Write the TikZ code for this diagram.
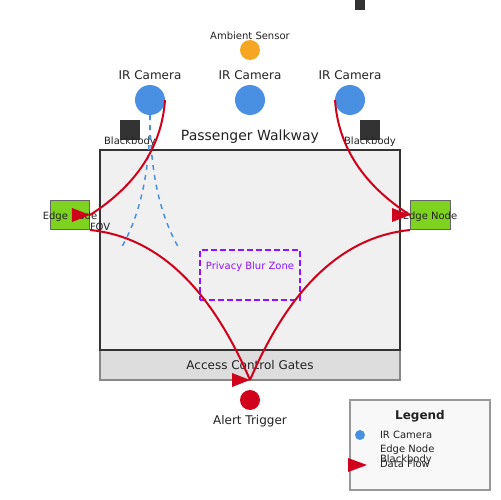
\documentclass[tikz,border=0pt]{standalone}
\usepackage{fontspec}
\setmainfont{DejaVu Sans}
\definecolor{camblue}{HTML}{4A90E2}
\definecolor{sensorange}{HTML}{F5A623}
\definecolor{edgegreen}{HTML}{7ED321}
\definecolor{flowred}{HTML}{D0021B}
\definecolor{blurpurple}{HTML}{9013FE}
\definecolor{darkbox}{HTML}{333333}
\definecolor{walkfill}{HTML}{F0F0F0}
\definecolor{gatefill}{HTML}{DDDDDD}
\definecolor{gateline}{HTML}{888888}
\definecolor{edgeline}{HTML}{666666}
\definecolor{legfill}{HTML}{F8F8F8}
\definecolor{legline}{HTML}{999999}
\definecolor{txt}{HTML}{222222}
\begin{document}
\begin{tikzpicture}[x=0.02cm,y=-0.02cm,
  every node/.style={outer sep=0pt},
  tten/.style={font=\fontsize{5.69pt}{6.8pt}\selectfont,text=txt,inner sep=0pt,anchor=base},
  ttwelve/.style={font=\fontsize{6.83pt}{8pt}\selectfont,text=txt,inner sep=0pt,anchor=base},
  tfourteen/.style={font=\fontsize{7.97pt}{9.5pt}\selectfont,text=txt,inner sep=0pt,anchor=base},
  camdot/.style={circle,fill=camblue,minimum size=0.6cm,inner sep=0pt},
  bbox/.style={rectangle,fill=darkbox,minimum size=0.4cm,inner sep=0pt},
  edgebox/.style={rectangle,fill=edgegreen,draw=edgeline,line width=0.57pt,minimum width=0.8cm,minimum height=0.6cm,inner sep=0pt},
  flow/.style={draw=flowred,line width=1.14pt},
  fov/.style={draw=camblue,line width=0.85pt,dash pattern=on 2.85pt off 2.85pt},
  tipfill/.style={fill=flowred}
]
\useasboundingbox (0,0) rectangle (500,500);

% top partial box
\node[rectangle,fill=darkbox,minimum size=0.2cm,inner sep=0pt] (topbox) at (360,5) {};

% gates and walkway
\node[rectangle,fill=gatefill,draw=gateline,line width=0.85pt,minimum width=6cm,minimum height=0.6cm,inner sep=0pt] (gates) at (250,365) {};
\node[rectangle,fill=walkfill,draw=darkbox,line width=1.14pt,minimum width=6cm,minimum height=4cm,inner sep=0pt] (walk) at (250,250) {};
\node[tfourteen] (walklbl) at (250,140) {Passenger Walkway};
\node[ttwelve] (gatelbl) at (250,369.5) {Access Control Gates};

% sensor
\node[circle,fill=sensorange,minimum size=0.4cm,inner sep=0pt] (amb) at (250,50) {};
\node[tten] (amblbl) at (250,40) {Ambient Sensor};

% cameras
\node[camdot] (cam1) at (150,100) {};
\node[camdot] (cam2) at (250,100) {};
\node[camdot] (cam3) at (350,100) {};
\node[ttwelve] (cam1lbl) at (150,80) {IR Camera};
\node[ttwelve] (cam2lbl) at (250,80) {IR Camera};
\node[ttwelve] (cam3lbl) at (350,80) {IR Camera};

% blackbodies
\node[bbox] (bb1) at (130,130) {};
\node[bbox] (bb2) at (370,130) {};
\node[tten] (bb1lbl) at (130,144.5) {Blackbody};
\node[tten] (bb2lbl) at (370,144.5) {Blackbody};

% edge nodes
\node[edgebox] (edge1) at (70,215) {};
\node[edgebox] (edge2) at (430,215) {};
\node[tten] (edge1lbl) at (70,219.5) {Edge Node};
\node[tten] (edge2lbl) at (430,219.5) {Edge Node};

% privacy blur zone
\node[rectangle,draw=blurpurple,line width=1.14pt,dash pattern=on 3.4pt off 1.7pt,minimum width=2cm,minimum height=1cm,inner sep=0pt] (blur) at (250,275) {};
\node[tten,text=blurpurple] (blurlbl) at (250,269) {Privacy Blur Zone};

% FOV
\coordinate (fovL) at (120,250);
\coordinate (fovR) at (180,250);
\draw[fov] (cam1.south) .. controls +(0,56.7) and +(20,-33.3) .. (fovL);
\draw[fov] (cam1.south) .. controls +(0,56.7) and +(-20,-33.3) .. (fovR);
\node[tten,anchor=base west] (fovlbl) at (90,230) {FOV};

% data flows
\coordinate (tipA) at (250,380);
\draw[flow] (cam1.east) .. controls +(-3.3,46.7) and +(46.7,-30) .. (edge1.east);
\draw[flow] (cam3.west) .. controls +(3.3,46.7) and +(-46.7,-30) .. (edge2.west);
\draw[flow] (edge1.south east) .. controls +(66.7,6.7) and +(-40,-93.3) .. (tipA);
\draw[flow] (edge2.south west) .. controls +(-66.7,6.7) and +(40,-93.3) .. (tipA);
\fill[tipfill] (edge1.east) -- ++(-18,-7) -- ++(0,14) -- cycle;
\fill[tipfill] (edge2.west) -- ++(-18,-7) -- ++(0,14) -- cycle;
\fill[tipfill] (tipA) -- ++(-18,-7) -- ++(0,14) -- cycle;

% alert
\node[circle,fill=flowred,minimum size=0.4cm,inner sep=0pt] (alert) at (250,400) {};
\node[ttwelve] (alertlbl) at (250,424) {Alert Trigger};

% legend
\node[rectangle,fill=legfill,draw=legline,line width=0.85pt,minimum width=2.8cm,minimum height=1.8cm,inner sep=0pt] (legend) at (420,445) {};
\node[ttwelve,font=\fontsize{6.83pt}{8pt}\selectfont\bfseries] (legtitle) at (420,419.5) {Legend};
\node[circle,fill=camblue,minimum size=0.2cm,inner sep=0pt] (legcam) at (360,435) {};
\node[tten,anchor=base west] (legcamlbl) at (380,438) {IR Camera};
\node[tten,anchor=base west] (legedgelbl) at (380,452.5) {Edge Node};
\node[tten,anchor=base west] (legbblbl) at (380,462.3) {Blackbody};
\node[tten,anchor=base west] (legflowlbl) at (380,467.7) {Data Flow};
\coordinate (legtip) at (367,465);
\fill[tipfill] (legtip) -- ++(-19,-7) -- ++(0,14) -- cycle;
\end{tikzpicture}
\end{document}
